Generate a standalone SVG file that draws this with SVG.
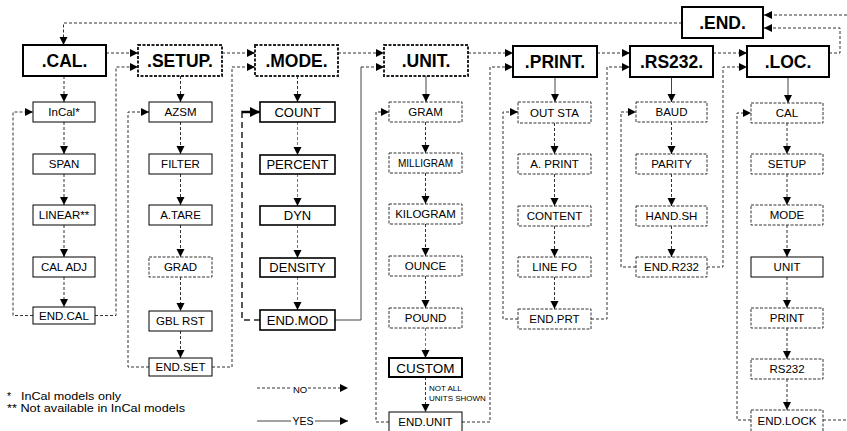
<svg xmlns="http://www.w3.org/2000/svg" width="847" height="431" viewBox="0 0 847 431">
<defs>
<marker id="ah" markerUnits="userSpaceOnUse" markerWidth="9" markerHeight="9" refX="8" refY="4" orient="auto"><path d="M0,0 L8,4 L0,8 z" fill="#000"/></marker>
<marker id="ahb" markerUnits="userSpaceOnUse" markerWidth="11" markerHeight="11" refX="10" refY="5" orient="auto"><path d="M0,0 L10,5 L0,10 z" fill="#000"/></marker>
<style>
.tb{fill:#fff;stroke:#000;stroke-width:2}
.tbd{fill:#fff;stroke:#222;stroke-width:2;stroke-dasharray:3 1.5}
.sb{fill:#fff;stroke:#000;stroke-width:1}
.sbd{fill:#fff;stroke:#333;stroke-width:1;stroke-dasharray:3 1.5}
.mb{fill:#fff;stroke:#000;stroke-width:1.6}
.cb{fill:#fff;stroke:#000;stroke-width:2}
text{font-family:"Liberation Sans",Arial,sans-serif;fill:#000}
.tt{font-size:17.5px;font-weight:bold;text-anchor:middle}
.st{font-size:11.5px;text-anchor:middle}
.mt{font-size:13px;text-anchor:middle}
.d{fill:none;stroke:#333;stroke-width:1;stroke-dasharray:3 2}
.dg{fill:none;stroke:#777;stroke-width:1;stroke-dasharray:3 2}
.s{fill:none;stroke:#444;stroke-width:1}
.a{marker-end:url(#ah)}
</style>
</defs>
<g id="connectors">
<path class="d a" d="M682,23 H63.5 V45"/>
<path class="d a" d="M847,15 H764"/>
<path class="d a" d="M829,53 H840 V28 H764"/>
<path class="d a" d="M106,53 H138"/>
<path class="d a" d="M222,53 H255"/>
<path class="d a" d="M338,53 H384"/>
<path class="d a" d="M468,53 H513"/>
<path class="d a" d="M597,53 H630"/>
<path class="d a" d="M713,53 H747"/>
<path class="d a" d="M64,76 V102"/>
<path class="d a" d="M180.5,76 V102"/>
<path class="d a" d="M297.5,76 V102"/>
<path class="s a" d="M426,76 V102"/>
<path class="s a" d="M555,77 V102"/>
<path class="s a" d="M671.5,77 V102"/>
<path class="s a" d="M788,77 V103"/>
<path class="d a" d="M64,122 V154"/>
<path class="d a" d="M64,174 V205"/>
<path class="d a" d="M64,225 V257"/>
<path class="d a" d="M64,277 V307"/>
<path class="d a" d="M33,315.5 H13 V112 H33"/>
<path class="d a" d="M95,315.5 H116 V67 H138"/>
<path class="d a" d="M180.5,122 V154"/>
<path class="d a" d="M180.5,174 V205"/>
<path class="d a" d="M180.5,225 V257"/>
<path class="d a" d="M180.5,277 V311"/>
<path class="d a" d="M180.5,331 V358"/>
<path class="d a" d="M149,367 H128 V112 H149"/>
<path class="d a" d="M212,367 H232 V67 H255"/>
<path class="dg a" d="M297.5,122 V155"/>
<path class="dg a" d="M297.5,174 V206"/>
<path class="dg a" d="M297.5,225 V258"/>
<path class="dg a" d="M297.5,277 V310"/>
<path d="M260,320 H242 V113" fill="none" stroke="#222" stroke-width="1.5" stroke-dasharray="6 4"/>
<path d="M241.3,112 H260" fill="none" stroke="#000" stroke-width="2.5" marker-end="url(#ahb)"/>
<path class="s" d="M335,320 H361 V67" stroke="#666"/>
<path class="d a" d="M361,67 H384"/>
<path class="d a" d="M425.5,122 V153"/>
<path class="d a" d="M425.5,173 V204"/>
<path class="d a" d="M425.5,224 V256"/>
<path class="d a" d="M425.5,276 V308"/>
<path class="dg a" d="M425.5,328 V358"/>
<path class="d a" d="M425.5,377 V412"/>
<path class="d a" d="M389,422 H376 V112 H389"/>
<path class="d a" d="M462,422 H490 V67 H513"/>
<path class="d a" d="M554.5,123 V154"/>
<path class="d a" d="M554.5,174 V206"/>
<path class="d a" d="M554.5,226 V257"/>
<path class="d a" d="M554.5,277 V309"/>
<path class="d a" d="M518,319 H503 V112 H518"/>
<path class="d a" d="M591,319 H607 V67 H630"/>
<path class="d a" d="M671.5,122 V154"/>
<path class="d a" d="M671.5,174 V206"/>
<path class="d a" d="M671.5,226 V257"/>
<path class="d a" d="M636,267 H621 V112 H636"/>
<path class="d a" d="M707,267 H723 V67 H747"/>
<path class="d a" d="M787,123 V154"/>
<path class="d a" d="M787,174 V205"/>
<path class="d a" d="M787,225 V257"/>
<path class="d a" d="M787,277 V308"/>
<path class="d a" d="M787,328 V359"/>
<path class="d a" d="M787,379 V410"/>
<path class="d a" d="M751,420 H737 V113 H751"/>
<path class="d" d="M823,420 H847"/>
</g>
<g id="top-nodes">
<g id="n-cal"><rect class="tb" x="23" y="45" width="83" height="31"/><text class="tt" x="64.5" y="66.5">.CAL.</text></g>
<g id="n-setup"><rect class="tbd" x="138" y="45" width="84" height="31"/><text class="tt" x="180" y="66.5">.SETUP.</text></g>
<g id="n-mode"><rect class="tbd" x="255" y="45" width="83" height="31"/><text class="tt" x="296.5" y="66.5">.MODE.</text></g>
<g id="n-unit"><rect class="tbd" x="384" y="45" width="84" height="31"/><text class="tt" x="426" y="66.5">.UNIT.</text></g>
<g id="n-print"><rect class="tb" x="513" y="46" width="84" height="31"/><text class="tt" x="555" y="67.5">.PRINT.</text></g>
<g id="n-rs232"><rect class="tb" x="630" y="46" width="83" height="31"/><text class="tt" x="671.5" y="67.5">.RS232.</text></g>
<g id="n-loc"><rect class="tb" x="747" y="46" width="82" height="31"/><text class="tt" x="788" y="67.5">.LOC.</text></g>
<g id="n-end"><rect class="tb" x="682" y="7" width="81" height="31"/><text class="tt" x="722.5" y="28.5">.END.</text></g>
</g>
<g id="cal-nodes">
<g id="c1"><rect class="sb" x="33" y="102" width="62" height="20"/><text class="st" x="64" y="116">InCal*</text></g>
<g id="c2"><rect class="sb" x="33" y="154" width="62" height="20"/><text class="st" x="64" y="168">SPAN</text></g>
<g id="c3"><rect class="sb" x="33" y="205" width="62" height="20"/><text class="st" x="64" y="219">LINEAR**</text></g>
<g id="c4"><rect class="sb" x="33" y="257" width="62" height="20"/><text class="st" x="64" y="271">CAL ADJ</text></g>
<g id="c5"><rect class="sb" x="33" y="307" width="62" height="17"/><text class="st" x="64" y="319.5">END.CAL</text></g>
</g>
<g id="setup-nodes">
<g id="s1"><rect class="sb" x="149" y="102" width="63" height="20"/><text class="st" x="180.5" y="116">AZSM</text></g>
<g id="s2"><rect class="sb" x="149" y="154" width="63" height="20"/><text class="st" x="180.5" y="168">FILTER</text></g>
<g id="s3"><rect class="sb" x="149" y="205" width="63" height="20"/><text class="st" x="180.5" y="219">A.TARE</text></g>
<g id="s4"><rect class="sbd" x="149" y="257" width="63" height="20"/><text class="st" x="180.5" y="271">GRAD</text></g>
<g id="s5"><rect class="sb" x="149" y="311" width="63" height="20"/><text class="st" x="180.5" y="325">GBL RST</text></g>
<g id="s6"><rect class="sb" x="149" y="358" width="63" height="18"/><text class="st" x="180.5" y="371">END.SET</text></g>
</g>
<g id="mode-nodes">
<g id="m1"><rect class="mb" x="260" y="102" width="75" height="20"/><text class="mt" x="297.5" y="116.7">COUNT</text></g>
<g id="m2"><rect class="mb" x="260" y="155" width="75" height="19"/><text class="mt" x="297.5" y="169.2">PERCENT</text></g>
<g id="m3"><rect class="mb" x="260" y="206" width="75" height="19"/><text class="mt" x="297.5" y="220.2">DYN</text></g>
<g id="m4"><rect class="mb" x="260" y="258" width="75" height="19"/><text class="mt" x="297.5" y="272.2">DENSITY</text></g>
<g id="m5"><rect class="mb" x="260" y="310" width="75" height="20"/><text class="mt" x="297.5" y="324.7">END.MOD</text></g>
</g>
<g id="unit-nodes">
<g id="u1"><rect class="sbd" x="389" y="102" width="73" height="20"/><text class="st" x="425.5" y="116">GRAM</text></g>
<g id="u2"><rect class="sbd" x="389" y="153" width="73" height="20"/><text class="st" x="425.5" y="166.5" style="font-size:10px">MILLIGRAM</text></g>
<g id="u3"><rect class="sbd" x="389" y="204" width="73" height="20"/><text class="st" x="425.5" y="218">KILOGRAM</text></g>
<g id="u4"><rect class="sbd" x="389" y="256" width="73" height="20"/><text class="st" x="425.5" y="270">OUNCE</text></g>
<g id="u5"><rect class="sbd" x="389" y="308" width="73" height="20"/><text class="st" x="425.5" y="322">POUND</text></g>
<g id="u6"><rect class="cb" x="389" y="358" width="73" height="19"/><text class="mt" x="425.5" y="372.5" style="font-size:13.5px">CUSTOM</text></g>
<g id="u7"><rect class="sb" x="389" y="412" width="73" height="22"/><text class="st" x="425.5" y="426">END.UNIT</text></g>
<text x="429" y="391" style="font-size:8px">NOT ALL</text>
<text x="429" y="401" style="font-size:8px">UNITS SHOWN</text>
</g>
<g id="print-nodes">
<g id="p1"><rect class="sbd" x="518" y="102" width="73" height="21"/><text class="st" x="554.5" y="116.5">OUT STA</text></g>
<g id="p2"><rect class="sbd" x="518" y="154" width="73" height="20"/><text class="st" x="554.5" y="168">A.  PRINT</text></g>
<g id="p3"><rect class="sbd" x="518" y="206" width="73" height="20"/><text class="st" x="554.5" y="220">CONTENT</text></g>
<g id="p4"><rect class="sbd" x="518" y="257" width="73" height="20"/><text class="st" x="554.5" y="271">LINE FO</text></g>
<g id="p5"><rect class="sbd" x="518" y="309" width="73" height="20"/><text class="st" x="554.5" y="323">END.PRT</text></g>
</g>
<g id="rs232-nodes">
<g id="r1"><rect class="sbd" x="636" y="102" width="71" height="20"/><text class="st" x="671.5" y="116">BAUD</text></g>
<g id="r2"><rect class="sbd" x="636" y="154" width="71" height="20"/><text class="st" x="671.5" y="168">PARITY</text></g>
<g id="r3"><rect class="sbd" x="636" y="206" width="71" height="20"/><text class="st" x="671.5" y="220">HAND.SH</text></g>
<g id="r4"><rect class="sbd" x="636" y="257" width="71" height="20"/><text class="st" x="671.5" y="271">END.R232</text></g>
</g>
<g id="loc-nodes">
<g id="l1"><rect class="sbd" x="751" y="103" width="72" height="20"/><text class="st" x="787" y="117">CAL</text></g>
<g id="l2"><rect class="sbd" x="751" y="154" width="72" height="20"/><text class="st" x="787" y="168">SETUP</text></g>
<g id="l3"><rect class="sbd" x="751" y="205" width="72" height="20"/><text class="st" x="787" y="219">MODE</text></g>
<g id="l4"><rect class="sb" x="751" y="257" width="72" height="20"/><text class="st" x="787" y="271">UNIT</text></g>
<g id="l5"><rect class="sbd" x="751" y="308" width="72" height="20"/><text class="st" x="787" y="322">PRINT</text></g>
<g id="l6"><rect class="sbd" x="751" y="359" width="72" height="20"/><text class="st" x="787" y="373">RS232</text></g>
<g id="l7"><rect class="sbd" x="751" y="410" width="72" height="22"/><text class="st" x="787" y="424.5">END.LOCK</text></g>
</g>
<g id="legend">
<path class="d" d="M257,388 H292"/>
<text x="300" y="392.5" style="font-size:9.5px" text-anchor="middle">NO</text>
<path class="d a" d="M308,388 H348"/>
<path class="s" d="M257,421 H291" stroke="#000"/>
<text x="303" y="425" style="font-size:10.5px" text-anchor="middle">YES</text>
<path class="s a" d="M315,421 H348" stroke="#000"/>
<text x="7" y="400" style="font-size:10.5px">*</text>
<text x="21" y="400" style="font-size:10.5px" textLength="100" lengthAdjust="spacingAndGlyphs">InCal models only</text>
<text x="7" y="412" style="font-size:10.5px" textLength="178" lengthAdjust="spacingAndGlyphs">** Not available in InCal models</text>
</g>
</svg>
